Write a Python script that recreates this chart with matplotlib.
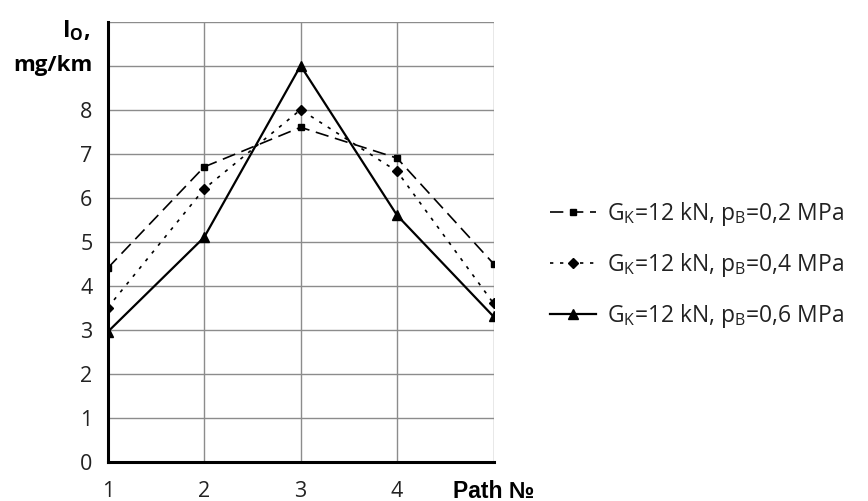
import matplotlib
matplotlib.use("Agg")
import matplotlib.pyplot as plt

plt.rcParams['font.family'] = ['Open Sans', 'DejaVu Sans']
plt.rcParams['mathtext.fontset'] = 'custom'
plt.rcParams['mathtext.rm'] = 'Open Sans'
plt.rcParams['mathtext.bf'] = 'Open Sans:bold'

paths = [1, 2, 3, 4, 5]
s1 = [4.4, 6.7, 7.6, 6.9, 4.5]
s2 = [3.5, 6.2, 8.0, 6.6, 3.6]
s3 = [2.95, 5.1, 9.0, 5.6, 3.3]
labels = [r"G$_\mathrm{K}$=12 kN, p$_\mathrm{B}$=0,2 MPa",
          r"G$_\mathrm{K}$=12 kN, p$_\mathrm{B}$=0,4 MPa",
          r"G$_\mathrm{K}$=12 kN, p$_\mathrm{B}$=0,6 MPa"]
xticklabels = ['1', '2', '3', '4']
yticklabels = ['0', '1', '2', '3', '4', '5', '6', '7', '8']

fig = plt.figure(figsize=(8.68, 5.01), dpi=100)
ax = fig.add_axes([107.7/868, 1-461.7/501, 385.8/868, 440/501])

ax.plot(paths, s1, color='black', lw=1.2, dashes=(8, 4), marker='s', ms=5, label=labels[0])
ax.plot(paths, s2, color='black', lw=1.2, dashes=(2, 4), marker='D', ms=5, label=labels[1])
ax.plot(paths, s3, color='black', lw=1.6, marker='^', ms=7, label=labels[2])

ax.set_xlim(1, 5)
ax.set_ylim(0, 10)
ax.set_xticks([1, 2, 3, 4, 5])
ax.set_xticklabels(xticklabels + [''])
ax.set_yticks(range(11))
ax.set_yticklabels(yticklabels + ['', ''])
ax.grid(True, color='#8c8c8c', lw=1)
ax.set_axisbelow(True)
for s in ['top', 'right']:
    ax.spines[s].set_visible(False)
for s in ['left', 'bottom']:
    ax.spines[s].set_linewidth(2.2)
    ax.spines[s].set_zorder(5)
ax.tick_params(length=0, labelsize=15.5, colors='#222222')
ax.tick_params(axis='y', pad=11)
ax.tick_params(axis='x', pad=14)

ax.text(-0.04, 9, 'mg/km', transform=ax.get_yaxis_transform(), ha='right', va='center',
        fontsize=16, fontweight='bold')
ax.text(-0.045, 9.8, r'I$_\mathbf{O}$,', transform=ax.get_yaxis_transform(), ha='right', va='center',
        fontsize=16.5, fontweight='bold')
ax.text(5, -0.67, 'Path №', ha='center', va='center', fontsize=16.5, fontweight='bold',
        family=['Liberation Sans', 'DejaVu Sans'])

leg = ax.legend(loc='center left', bbox_to_anchor=(550/868, 1-265/501), bbox_transform=fig.transFigure,
                frameon=False, fontsize=16.5, handlelength=2.0, labelspacing=1.0, handletextpad=0.5,
                borderpad=0, borderaxespad=0)
for t in leg.get_texts():
    t.set_color('#222222')

fig.savefig('out.png', dpi=100)
